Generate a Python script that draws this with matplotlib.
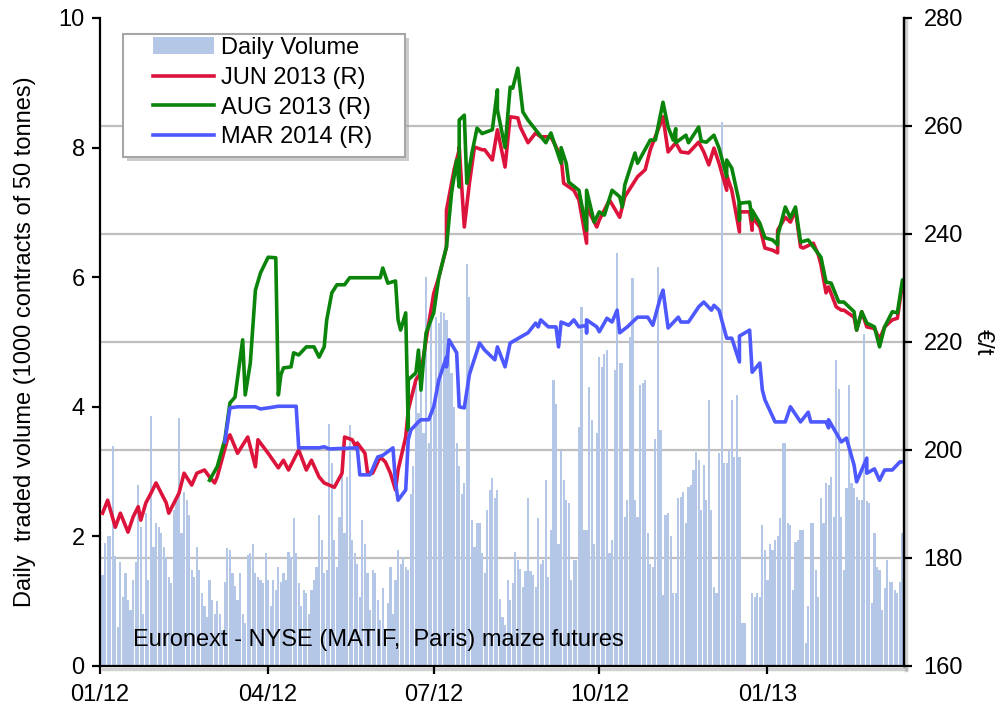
import numpy as np
import matplotlib
matplotlib.use('Agg')
import matplotlib.pyplot as plt
import matplotlib.transforms as mtransforms
from matplotlib.patches import Rectangle, Patch
from matplotlib.lines import Line2D

plt.rcParams['font.family'] = ['Liberation Sans', 'DejaVu Sans']

FIRST_SESSION = '2012-01-02'

# daily traded volume, 1000 contracts, one value per trading session
volume = [
    1.4, 1.9, 2.0, 2.0, 3.4, 1.7, 0.6, 1.6, 1.07, 1.43,
    1.02, 0.86, 1.33, 1.6, 2.79, 2.15, 0.81, 2.36, 1.33, 3.86,
    1.84, 2.2, 2.15, 2.05, 1.84, 1.68, 1.38, 1.28, 2.41, 2.56,
    3.82, 2.05, 2.69, 2.56, 2.33, 1.48, 1.38, 1.84, 1.48, 1.12,
    0.92, 0.76, 1.33, 1.02, 0.81, 1.0, 0.81, 0.56, 1.3, 1.82,
    1.79, 1.43, 1.23, 1.02, 1.43, 0.81, 0.66, 1.71, 1.74, 1.89,
    1.43, 1.38, 1.33, 1.28, 1.74, 1.33, 0.92, 1.33, 1.17, 1.53,
    1.3, 1.43, 1.33, 1.76, 1.68, 2.28, 1.74, 1.28, 0.92, 1.17,
    1.12, 0.81, 1.17, 1.33, 1.53, 2.33, 1.94, 1.43, 1.48, 3.74,
    3.13, 1.94, 1.53, 2.3, 3.08, 2.05, 2.92, 3.72, 1.94, 1.74,
    1.58, 1.07, 2.25, 1.89, 1.43, 0.86, 1.48, 1.43, 1.02, 0.71,
    1.2, 0.56, 0.97, 1.53, 0.81, 1.33, 1.79, 1.58, 1.68, 1.53,
    1.48, 2.66, 3.08, 4.6, 3.9, 4.4, 3.59, 6.0, 3.44, 5.29,
    3.95, 5.39, 5.29, 5.47, 5.44, 5.34, 4.93, 4.52, 4.0, 3.44,
    3.08, 2.66, 2.82, 6.2, 5.7, 2.25, 1.84, 2.2, 2.2, 1.74,
    1.43, 2.41, 2.72, 2.9, 2.6,
    2.72, 1.04, 0.76, 0.63, 1.33, 1.02, 1.28, 1.76, 1.64, 1.49,
    1.22, 1.46, 2.59, 1.46, 1.40, 1.22, 2.28, 1.58, 1.64, 2.87,
    1.38, 2.1, 4.41, 4.05, 1.89, 3.33, 2.87, 2.56, 2.51, 1.33,
    1.64, 1.64, 3.69, 5.54, 2.1, 2.1, 4.31, 3.8, 1.89, 3.6,
    4.77, 4.62, 4.82, 4.88, 1.74, 1.94, 4.57, 6.37, 4.67, 4.67,
    2.3, 2.56, 5.08, 5.98, 2.56, 2.3, 4.34, 4.36, 4.41, 2.05,
    1.58, 1.53, 3.51, 6.16, 3.64, 1.1, 2.33, 2.36, 2.0, 1.12,
    1.12, 2.59, 2.61, 2.69, 2.2, 2.77, 2.79, 3.02, 3.31, 3.18,
    2.41, 3.1, 2.56, 4.1, 2.41, 1.22, 1.12, 3.28, 8.4,
    3.13, 3.13, 3.33, 4.1, 3.23, 4.18, 3.23, 0.66, 0.66, 0,
    0, 1.12, 1.07, 1.12, 1.07, 2.18, 1.79, 1.33, 1.89, 1.79,
    1.94, 2.0, 2.28, 3.44, 3.44, 2.2, 2.18, 1.17, 1.92, 1.94,
    2.1, 2.1, 0.35, 0.92, 2.2, 2.2, 1.48, 1.07, 2.59, 2.2,
    2.82, 2.79, 2.92, 2.3, 4.72, 4.28, 2.3, 1.48, 2.74, 4.34,
    2.82, 2.74, 2.61, 2.56, 2.56, 5.13, 2.54, 2.51, 0.97, 2.05,
    1.53, 1.48, 0.86, 1.2, 1.64, 1.3, 1.3, 1.17, 1.12, 1.3, 2.05,
]

# futures prices (EUR/t); *_day = calendar days since 1 Jan 2012
jun_day = [1, 3, 6, 10, 13, 17, 19, 20, 24, 26, 30, 34, 37, 41, 45, 48, 52, 56, 59, 61,
           63, 68, 70, 74, 80, 83, 86, 90, 96, 100, 102, 108, 111, 115, 119, 122, 128, 131, 134, 137,
           140, 141, 144, 145, 149, 152, 156, 158, 160, 163, 166, 169, 172, 175, 178, 181, 185, 188, 190, 193,
           196, 197, 199, 201, 205, 208, 211, 214, 217, 221, 225, 228, 229, 234, 237, 241, 247, 251, 254, 258,
           262, 265, 267, 271, 274, 278, 284, 287, 293, 298, 302, 308, 311, 315, 318, 322, 327, 331, 333, 336,
           339, 342, 343, 346, 349, 350, 355, 356, 357, 361, 364, 368, 370, 372, 375, 378, 381, 383, 386, 390,
           394, 395, 397, 400, 403, 405, 408, 412, 415, 417, 421, 424, 427, 430, 433, 437, 439, 441]
jun_eur = [188.3, 190.7, 185.7, 188.3, 184.8, 187.6, 189.5, 187.0, 190.2, 192.0,
           193.9, 190.2, 188.3, 192.0, 195.7, 193.5, 195.7, 196.3, 195.0, 193.9,
           195.0, 201.9, 202.8, 199.4, 202.4, 196.9, 201.9, 199.4, 196.7, 198.1,
           196.3, 200.0, 196.3, 198.1, 195.0, 193.9, 193.1, 195.7, 202.4, 201.9,
           200.0, 201.3, 199.4, 195.9, 195.7, 198.7, 197.8, 195.7, 192.6, 196.3,
           202.4, 207.4, 213.0, 214.3, 220.4, 229.0, 232.0, 237.6, 244.4, 251.9,
           255.6, 256.1, 241.3, 249.4, 256.1, 255.6, 255.6, 253.7, 259.3, 252.4,
           261.7, 261.5, 259.8, 256.9, 258.7, 258.0, 258.0, 254.3, 249.4, 248.1,
           246.3, 238.3, 245.0, 241.3, 242.6, 246.3, 243.1, 246.9, 250.6, 251.9,
           255.6, 261.7, 255.2, 256.9, 255.2, 255.0, 257.0, 255.2, 252.8, 255.9,
           253.1, 248.1, 250.9, 248.1, 240.4, 244.1, 244.1, 240.7, 243.1, 241.3,
           237.4, 237.0, 236.5, 240.7, 243.1, 242.2, 244.4, 237.6, 237.4, 238.3,
           236.1, 234.3, 229.1, 230.2, 226.5, 225.9, 225.9, 224.6, 222.2, 225.6,
           222.8, 222.5, 220.5, 222.8, 224.1, 224.4, 230.9, 229.1]

aug_day = [59, 63, 67, 70, 73, 76, 79, 81, 84, 87, 90, 95, 96, 97, 100, 103, 105, 108, 112, 116,
           118, 122, 123, 126, 129, 133, 136, 152, 155, 157, 160, 163, 164, 166, 167, 169, 172, 173, 174, 177,
           178, 181, 185, 188, 192, 194, 195, 196, 199, 200, 203, 206, 208, 214, 216, 218, 221, 223, 226, 228,
           230, 234, 238, 243, 247, 251, 252, 255, 256, 262, 265, 266, 270, 273, 276, 279, 284, 285, 288, 292,
           295, 300, 304, 308, 311, 313, 315, 316, 320, 322, 327, 329, 332, 336, 339, 342, 343, 346, 349, 350,
           351, 355, 356, 357, 361, 364, 368, 370, 372, 375, 377, 381, 383, 388, 392, 395, 397, 401, 404, 408,
           412, 415, 417, 421, 424, 427, 430, 434, 437, 439, 441]
aug_eur = [194.4, 196.9, 201.9, 208.7, 209.8, 220.4, 210.2, 216.1, 229.6, 232.8,
           235.7, 235.6, 210.2, 213.9, 215.2, 215.4, 218.0, 217.6, 219.1, 219.1,
           217.2, 219.1, 224.1, 229.1, 230.6, 230.6, 231.9, 231.9, 233.7, 230.9,
           231.3, 224.1, 222.2, 225.4, 203.7, 213.0, 214.3, 218.5, 211.1, 216.7,
           221.7, 225.4, 232.0, 237.6, 247.6, 253.7, 248.7, 261.1, 262.0, 249.4,
           255.0, 259.6, 258.6, 259.3, 266.7, 263.0, 256.0, 267.2, 267.0, 270.7,
           262.6, 261.1, 259.3, 256.9, 258.7, 253.1, 256.0, 253.1, 249.6, 248.1,
           240.7, 248.1, 242.2, 244.1, 243.5, 248.1, 246.9, 245.0, 249.1, 255.0,
           253.1, 257.4, 257.4, 264.4, 259.8, 257.4, 259.5, 256.9, 258.3, 256.9,
           259.8, 257.2, 257.0, 258.3, 255.9, 250.6, 253.7, 252.2, 245.7, 242.6,
           245.7, 245.9, 242.6, 244.4, 242.0, 239.3, 238.9, 238.0, 239.6, 245.0,
           243.0, 245.0, 238.5, 238.9, 237.0, 235.7, 231.1, 230.9, 227.4, 227.4,
           225.6, 222.2, 225.6, 223.5, 222.8, 219.1, 222.8, 225.6, 225.4, 231.5,
           230.0]

mar_day = [67, 69, 74, 85, 87, 90, 96, 107, 108, 119, 122, 124, 141, 142, 148, 151, 155, 159, 162, 163,
           166, 167, 170, 173, 175, 179, 182, 185, 188, 189, 191, 194, 195, 199, 201, 207, 211, 215, 218, 221,
           224, 229, 234, 237, 240, 241, 245, 249, 250, 251, 256, 259, 262, 265, 266, 267, 271, 274, 277, 280,
           283, 284, 289, 293, 299, 303, 306, 308, 311, 317, 318, 323, 327, 331, 334, 337, 339, 342, 346, 349,
           350, 355, 356, 361, 362, 365, 369, 375, 377, 383, 388, 389, 397, 398, 400, 405, 409, 413, 415, 419,
           421, 424, 427, 430, 434, 438, 441]
mar_eur = [201.5, 207.8, 208.0, 208.0, 207.6, 207.8, 208.1, 208.1, 200.4, 200.4,
           200.6, 200.2, 200.4, 195.4, 195.4, 198.7, 199.0, 200.4, 193.9, 190.7,
           192.6, 201.9, 203.7, 205.2, 205.6, 205.6, 208.0, 213.0, 217.2, 215.4,
           220.4, 218.0, 208.0, 207.8, 214.0, 219.8, 218.5, 216.7, 219.1, 215.4,
           219.8, 220.9, 221.7, 223.5, 222.8, 224.1, 222.8, 222.8, 219.1, 223.7,
           223.1, 224.1, 222.8, 223.1, 221.7, 224.1, 222.8, 221.9, 224.4, 223.7,
           225.9, 221.7, 222.8, 224.6, 224.6, 223.1, 228.3, 229.6, 222.6, 224.6,
           223.7, 223.7, 226.5, 227.4, 225.9, 226.8, 225.9, 220.7, 220.7, 216.3,
           221.1, 222.2, 214.4, 216.1, 211.1, 209.3, 205.2, 205.2, 208.0, 205.2,
           207.0, 205.2, 205.2, 204.1, 205.6, 201.5, 202.2, 197.2, 194.1, 198.5,
           195.7, 196.5, 194.4, 196.3, 196.3, 197.8, 197.8]

tick_dates = ['2012-01-01', '2012-04-01', '2012-07-01', '2012-10-01', '2013-01-01']
tick_labels = ['01/12', '04/12', '07/12', '10/12', '01/13']

BAR = '#b4c7e7'
RED = '#dc143c'
GREEN = '#0a840a'
BLUE = '#4d58ff'


def session(days):
    """calendar day offsets -> trading session index"""
    d = np.datetime64('2012-01-01') + np.array(days, dtype='timedelta64[D]')
    return np.busday_count(FIRST_SESSION, d)


W, H = 1004, 710
fig = plt.figure(figsize=(W / 100, H / 100), dpi=100)
ax = fig.add_axes([100 / W, 1 - 666 / H, 804 / W, 648 / H])
ax2 = ax.twinx()

n = len(volume)
ax.bar(np.arange(n), volume, width=0.85, color=BAR, linewidth=0, zorder=2)

# horizontal grid follows the right (price) axis
blend = mtransforms.blended_transform_factory(ax.transAxes, ax2.transData)
for p in [180, 200, 220, 240, 260]:
    ax.plot([0, 1], [p, p], transform=blend, color='#bfbfbf', lw=1.6, zorder=1)

ax2.plot(session(jun_day), jun_eur, color=RED, lw=2.6, solid_joinstyle='round')
ax2.plot(session(aug_day), aug_eur, color=GREEN, lw=2.6, solid_joinstyle='round')
ax2.plot(session(mar_day), mar_eur, color=BLUE, lw=2.6, solid_joinstyle='round')

ax.set_xlim(-0.6, n - 0.4)
ax.set_ylim(0, 10)
ax2.set_ylim(160, 280)

ax.set_xticks(np.busday_count(FIRST_SESSION, np.array(tick_dates, dtype='datetime64[D]')))
ax.set_xticklabels(tick_labels)
ax.set_yticks(range(0, 11, 2))
ax2.set_yticks(range(160, 281, 20))

for a in (ax, ax2):
    a.spines['top'].set_visible(False)
    for s in a.spines.values():
        s.set_linewidth(1.6)
ax2.spines['left'].set_visible(False)
ax2.spines['bottom'].set_visible(False)

ax.tick_params(axis='both', direction='out', length=6, width=1.6, labelsize=17, pad=5)
ax.tick_params(axis='x', pad=7)
ax2.tick_params(axis='y', direction='out', length=6, width=1.6, labelsize=17, pad=8)

ax.set_ylabel('Daily  traded volume (1000 contracts of 50 tonnes)', fontsize=17, labelpad=16)
ax2.set_ylabel('€/t', fontsize=17, rotation=270, labelpad=22)

ax.text(0.041, 0.04, 'Euronext - NYSE (MATIF,  Paris) maize futures',
        transform=ax.transAxes, fontsize=17, va='center', zorder=5)

# soft shadow along the right and bottom of the plot frame
fig.add_artist(Line2D([906 / W, 906 / W], [1 - 20 / H, 1 - 670 / H], color='#9a9a9a',
                      lw=2.5, alpha=0.45, zorder=-1))
fig.add_artist(Line2D([103 / W, 906 / W], [1 - 669 / H, 1 - 669 / H], color='#9a9a9a',
                      lw=2.5, alpha=0.45, zorder=-1))

# legend box with a soft shadow
bx0, by0, bx1, by1 = 123, 34, 405, 157
fig.patches.append(Rectangle((bx0 / W + 4 / W, 1 - by1 / H - 4 / H), (bx1 - bx0) / W, (by1 - by0) / H,
                             transform=fig.transFigure, facecolor='#9a9a9a', alpha=0.5,
                             edgecolor='none', zorder=3))
fig.patches.append(Rectangle((bx0 / W, 1 - by1 / H), (bx1 - bx0) / W, (by1 - by0) / H,
                             transform=fig.transFigure, facecolor='white',
                             edgecolor='#a6a6a6', lw=1.5, zorder=4))

handles = [Patch(facecolor=BAR, edgecolor='none'),
           Line2D([], [], color=RED, lw=2.6),
           Line2D([], [], color=GREEN, lw=2.6),
           Line2D([], [], color=BLUE, lw=2.6)]
labels = ['Daily Volume', 'JUN 2013 (R)', 'AUG 2013 (R)', 'MAR 2014 (R)']
leg = fig.legend(handles, labels, loc='upper left', bbox_to_anchor=(153 / W, 1 - 37 / H),
                 bbox_transform=fig.transFigure, frameon=False, fontsize=17,
                 handlelength=2.6, handletextpad=0.3, labelspacing=0.33,
                 borderpad=0, borderaxespad=0)
leg.set_zorder(6)

fig.savefig('out.png', dpi=100)
